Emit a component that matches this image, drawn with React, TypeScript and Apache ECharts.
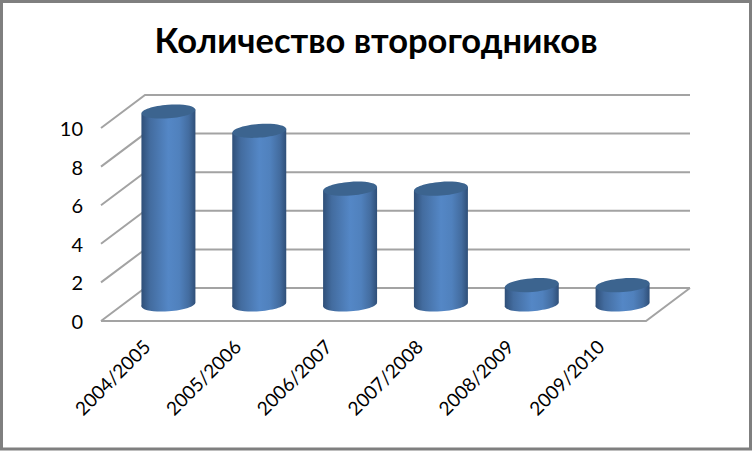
import React, { useEffect, useRef } from "react";
import * as echarts from "echarts";

const categories = ["2004/2005", "2005/2006", "2006/2007", "2007/2008", "2008/2009", "2009/2010"];
const values = [10, 9, 6, 6, 1, 1];
const yTicks = [0, 2, 4, 6, 8, 10];
const titleText = "Количество второгодников";

const DEPTH_X = 44;
const DEPTH_Y = -33;
const FONT = "Lato, 'Open Sans', 'Noto Sans', sans-serif";

export default function App() {
  const ref = useRef<HTMLDivElement>(null);
  useEffect(() => {
    const chart = echarts.init(ref.current!, undefined, { renderer: "svg" });
    const bodyFill = new echarts.graphic.LinearGradient(0, 0, 1, 0, [
      { offset: 0, color: "#2f4f78" },
      { offset: 0.16, color: "#436c9f" },
      { offset: 0.5, color: "#5487c6" },
      { offset: 0.7, color: "#5081bd" },
      { offset: 0.88, color: "#436c9f" },
      { offset: 1, color: "#2f4f78" },
    ]);
    const lineStyle = { stroke: "#a3a3a3", lineWidth: 2, fill: "none" };
    chart.setOption({
      animation: false,
      backgroundColor: "#ffffff",
      title: {
        text: titleText,
        left: 371,
        top: 17,
        textAlign: "center",
        textStyle: { fontFamily: FONT, fontSize: 34.5, fontWeight: "bold", color: "#000000" },
      },
      graphic: [
        {
          type: "rect",
          z: 100,
          shape: { x: 1.5, y: 1.5, width: 749, height: 447.5 },
          style: { fill: "none", stroke: "#7f7f7f", lineWidth: 3 },
        },
      ],
      grid: { left: 101, top: 128, width: 545, height: 193 },
      xAxis: {
        type: "category",
        data: categories,
        axisLine: { show: false },
        axisTick: { show: false },
        axisLabel: {
          rotate: 45,
          margin: 22,
          interval: 0,
          fontFamily: FONT,
          fontSize: 19,
          color: "#000000",
        },
      },
      yAxis: {
        type: "value",
        min: 0,
        max: 10,
        interval: 2,
        axisLine: { show: false },
        axisTick: { show: false },
        splitLine: { show: false },
        axisLabel: { margin: 18, fontFamily: FONT, fontSize: 20, color: "#000000" },
      },
      series: [
        {
          type: "custom",
          silent: true,
          clip: false,
          z: 1,
          encode: { x: 0, y: 1 },
          data: yTicks.map((t) => [0, t]),
          renderItem: (params: any, api: any) => {
            const cs = params.coordSys;
            const y = api.coord([0, api.value(1)])[1];
            const l = cs.x;
            const r = cs.x + cs.width;
            const children: any[] = [
              {
                type: "polyline",
                shape: {
                  points: [
                    [l, y],
                    [l + DEPTH_X, y + DEPTH_Y],
                    [r + DEPTH_X, y + DEPTH_Y],
                  ],
                },
                style: lineStyle,
              },
            ];
            if (api.value(1) === 0) {
              children.push({
                type: "polyline",
                shape: {
                  points: [
                    [l, y],
                    [r, y],
                    [r + DEPTH_X, y + DEPTH_Y],
                  ],
                },
                style: lineStyle,
              });
            }
            return { type: "group", children };
          },
        },
        {
          type: "custom",
          silent: true,
          clip: false,
          z: 2,
          encode: { x: 0, y: 1 },
          data: values.map((v, i) => [i, v]),
          renderItem: (_params: any, api: any) => {
            const top = api.coord([api.value(0), api.value(1)]);
            const base = api.coord([api.value(0), 0]);
            const cx = top[0] + DEPTH_X / 2;
            const ty = top[1] + DEPTH_Y / 2;
            const by = base[1] + DEPTH_Y / 2;
            const rx = 27;
            const ry = 6.8;
            const tilt = 0.075;
            const edge = rx * Math.sin(tilt);
            return {
              type: "group",
              children: [
                {
                  type: "ellipse",
                  x: cx,
                  y: by,
                  rotation: tilt,
                  shape: { cx: 0, cy: 0, rx, ry },
                  style: { fill: bodyFill },
                },
                {
                  type: "polygon",
                  shape: {
                    points: [
                      [cx - rx, ty + edge],
                      [cx + rx, ty - edge],
                      [cx + rx, by - edge],
                      [cx - rx, by + edge],
                    ],
                  },
                  style: { fill: bodyFill },
                },
                {
                  type: "ellipse",
                  x: cx,
                  y: ty,
                  rotation: tilt,
                  shape: { cx: 0, cy: 0, rx, ry },
                  style: { fill: "#3c648f" },
                },
              ],
            };
          },
        },
      ],
    });
    return () => chart.dispose();
  }, []);
  return (
    <div
      ref={ref}
      style={{ position: "fixed", left: 0, top: 0, width: 753, height: 451 }}
    />
  );
}
